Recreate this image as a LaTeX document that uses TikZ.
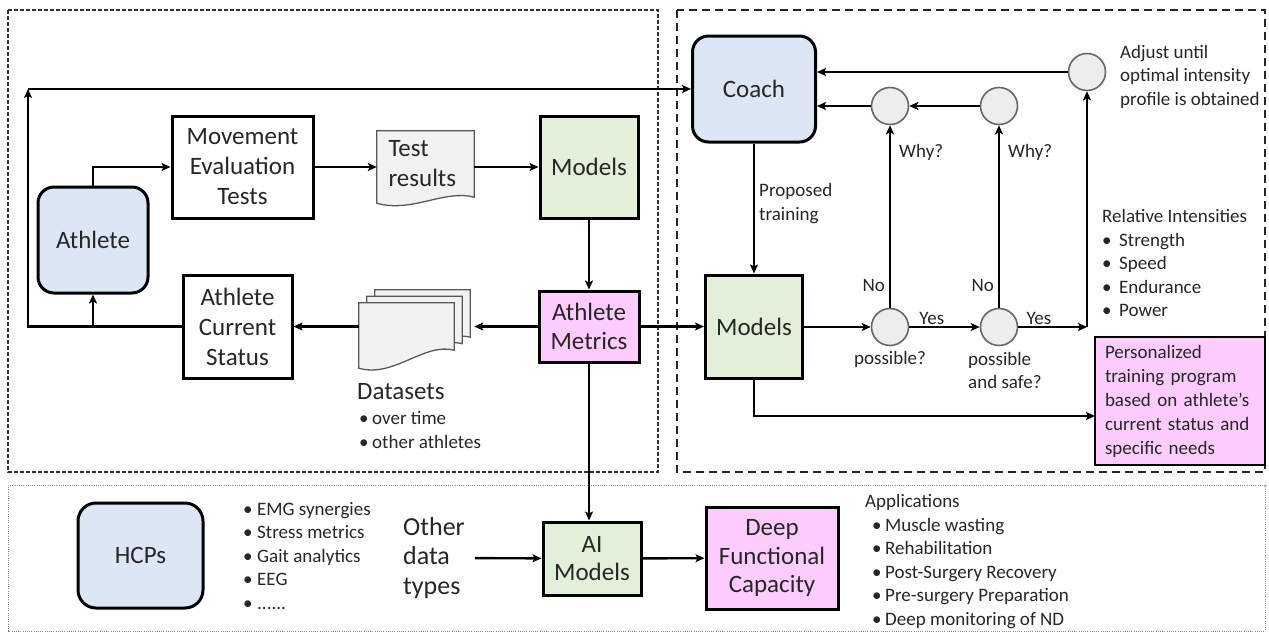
\documentclass[tikz,border=0pt]{standalone}
\usepackage{fontspec}
\setmainfont{Carlito}
\usetikzlibrary{arrows.meta, positioning, backgrounds}
\definecolor{blueish}{HTML}{DCE6F4}
\definecolor{greenish}{HTML}{E2EFD9}
\definecolor{pinkish}{HTML}{FFCCFF}
\definecolor{paper}{HTML}{F2F2F2}
\definecolor{dotgray}{HTML}{EDEDED}
\definecolor{ink}{HTML}{262626}
\newcommand{\itm}[2][15pt]{\makebox[#1][l]{\textbullet}#2}

\begin{document}
\begin{tikzpicture}[
    x=1pt, y=-1pt,
    bigtxt/.style={font=\fontsize{25}{30}\selectfont},
    smalltxt/.style={font=\fontsize{19}{23.5}\selectfont},
    person/.style={rectangle, draw, line width=3pt, rounded corners=16pt, fill=blueish, text=ink, align=center, bigtxt},
    proc/.style={rectangle, draw, line width=3pt, fill=white, text=ink, align=center, inner sep=3pt, bigtxt},
    model/.style={proc, fill=greenish, font=\fontsize{25}{28.5}\selectfont},
    result/.style={proc, fill=pinkish, font=\fontsize{25}{28.5}\selectfont},
    page/.style={rectangle, inner sep=0pt},
    docline/.style={draw=black!65, line width=1.3pt, fill=paper},
    check/.style={circle, draw=black!60, line width=1.6pt, fill=dotgray, minimum size=37pt, inner sep=0pt},
    note/.style={align=left, text=ink, inner sep=0pt, smalltxt},
    arrow/.style={-{Stealth[length=9pt, width=8pt, inset=2pt]}, line width=2.4pt},
    zoneA/.style={draw=black!80, line width=1.5pt, dash pattern=on 4pt off 2pt},
    zoneB/.style={draw=black!85, line width=1.6pt, dash pattern=on 8pt off 5pt},
    zoneC/.style={draw=black!45, line width=1pt, dash pattern=on 1pt off 1.2pt}
]
    \useasboundingbox (0,0) rectangle (1269,635);
    % zones
    \draw[zoneA] (8,10) rectangle (658,472);
    \draw[zoneB] (677,10) rectangle (1265,472);
    \draw[zoneC] (8,485) rectangle (1265,631);

    % athlete side
    \node[person, minimum width=110pt, minimum height=106pt] (athlete) at (93,240) {Athlete};
    \node[proc, minimum width=141pt, minimum height=102pt] (move) at (242.5,167) {Movement\\Evaluation\\Tests};
    \node[page, minimum width=97pt, minimum height=66pt, text width=74pt, align=left, text=ink, bigtxt] (test) at (425.5,164) {Test\\results};
    \node[model, minimum width=98pt, minimum height=102pt] (modelsA) at (589,167) {Models};
    \node[result, minimum width=100pt, minimum height=71pt] (metrics) at (589,326.5) {Athlete\\Metrics};
    \node[proc, minimum width=109pt, minimum height=103pt] (status) at (237.5,326.5) {Athlete\\Current\\Status};
    \node[page, minimum width=95pt, minimum height=47pt] (setC) at (422.5,313.5) {};
    \node[page, minimum width=95pt, minimum height=47pt] (setB) at (414.5,320) {};
    \node[page, minimum width=95pt, minimum height=47pt] (setA) at (406.5,326.5) {};
    \node[note, bigtxt, anchor=west] (sethead) at (357,392) {Datasets};
    \node[note, anchor=west] (setlist) at (359,430) {\itm[13pt]{over time}\\\itm[13pt]{other athletes}};

    \begin{scope}[on background layer]
        \foreach \d/\dr in {setC/18, setB/18, setA/18, test/6}
            \draw[docline] (\d.north west) -- (\d.north east) -- (\d.south east)
                .. controls ([xshift=-30pt, yshift=8pt]\d.south east) and ([xshift=35pt, yshift={-(\dr+10)*1pt}]\d.south west)
                .. ([yshift={-\dr*1pt}]\d.south west) -- cycle;
    \end{scope}

    % coach side
    \node[person, minimum width=123pt, minimum height=106pt] (coach) at (754,89) {Coach};
    \node[model, minimum width=97pt, minimum height=103pt] (modelsB) at (754,326.5) {Models};
    \node[check] (poss) at (890,327) {};
    \node[check] (safe) at (999,327) {};
    \node[check] (tune) at (1087,72) {};
    \node[check] (whyA) at (890,106) {};
    \node[check] (whyB) at (999,106) {};
    \node[result, font=\fontsize{19}{24}\selectfont, align=left, text width=150pt, minimum width=170pt, minimum height=128pt, line width=2.6pt] (plan) at (1180,401)
        {Personalized\\training program\\based on athlete’s\\current status and\\specific needs};
    \node[note, anchor=west] (tunenote) at (1120,76.5) {Adjust until\\optimal intensity\\profile is obtained};
    \node[note, anchor=west] (intens) at (1102,263) {Relative Intensities\\\itm[17pt]{Strength}\\\itm[17pt]{Speed}\\\itm[17pt]{Endurance}\\\itm[17pt]{Power}};
    \node[note, below=5pt of poss] (posstxt) {possible?};
    \node[note, anchor=north west] (safetxt) at (968,352) {possible\\and safe?};

    % health side
    \node[person, minimum width=125pt, minimum height=105pt, rounded corners=18pt] (hcp) at (140.5,555.5) {HCPs};
    \node[note, anchor=west] (signals) at (243,556) {\itm[14pt]{EMG synergies}\\\itm[14pt]{Stress metrics}\\\itm[14pt]{Gait analytics}\\\itm[14pt]{EEG}\\\itm[14pt]{......}};
    \node[note, anchor=west, font=\fontsize{26}{29.5}\selectfont] (other) at (403,558) {Other\\data\\types};
    \node[model, minimum width=98pt, minimum height=73pt] (ai) at (592,558.5) {AI\\Models};
    \node[result, minimum width=132pt, minimum height=102pt] (deep) at (772,558) {Deep\\Functional\\Capacity};
    \node[note, anchor=west] (apps) at (865,561.5) {Applications\\\hspace*{7pt}\itm[13pt]{Muscle wasting}\\\hspace*{7pt}\itm[13pt]{Rehabilitation}\\\hspace*{7pt}\itm[13pt]{Post-Surgery Recovery}\\\hspace*{7pt}\itm[13pt]{Pre-surgery Preparation}\\\hspace*{7pt}\itm[13pt]{Deep monitoring of ND}};

    % connectors
    \draw[arrow] (athlete.north) |- (move.west);
    \draw[arrow] (move.east) -- (move.east -| test.west);
    \draw[arrow] (move.east -| test.east) -- (move.east -| modelsA.west);
    \draw[arrow] (modelsA) -- (metrics);
    \draw[arrow, shorten >=4pt] (metrics.west) -- (metrics.west -| setC.east);
    \draw[arrow] (setA) -- (status);
    \coordinate (fb) at (28,89);
    \draw[arrow] (status.west) -| (fb);
    \draw[arrow] (status.west -| athlete.south) -- (athlete.south);
    \draw[arrow] (fb) -- (coach.west);

    \draw[arrow] (coach) -- node[note, pos=0.46, right=4pt] {Proposed\\training} (modelsB);
    \draw[arrow] (metrics) -- (modelsB);
    \draw[arrow] (modelsB.east |- poss) -- (poss);
    \draw[arrow] (poss) -- node[note, pos=0.32, above=1pt] {Yes} (safe);
    \coordinate (yj) at (tune |- safe);
    \draw[arrow] (safe) -- node[note, pos=0.3, above=1pt] {Yes} (yj);
    \draw[arrow] (yj) -- (tune);
    \draw[arrow] (tune) -- (tune -| coach.east);
    \draw[arrow] (poss) -- node[note, pos=0.12, left=4pt] {No} node[note, pos=0.85, right=8pt] {Why?} (whyA);
    \draw[arrow] (safe) -- node[note, pos=0.12, left=4pt] {No} node[note, pos=0.85, right=8pt] {Why?} (whyB);
    \draw[arrow] (whyB) -- (whyA);
    \draw[arrow] (whyA) -- (whyA -| coach.east);
    \coordinate (toplan) at (1095,416);
    \draw[arrow] (modelsB.south) |- (toplan);

    \draw[arrow] (metrics.south) -- (metrics.south |- ai.north);
    \draw[arrow, shorten <=10pt] (other) -- (ai);
    \draw[arrow] (ai) -- (deep);
\end{tikzpicture}
\end{document}
